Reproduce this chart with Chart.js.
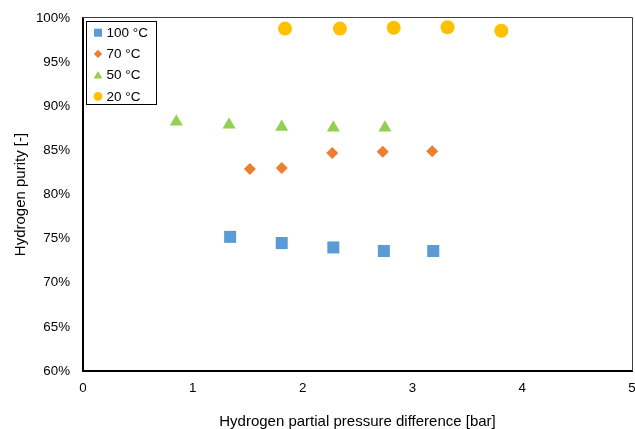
<!DOCTYPE html>
<html>
<head>
<meta charset="utf-8">
<script src="https://cdn.jsdelivr.net/npm/chart.js@4.4.1/dist/chart.umd.min.js"></script>
<style>
	html, body { margin: 0; padding: 0; background: #fff; }
	#wrap { width: 635px; height: 429px; }
</style>
</head>
<body>
<div id="wrap"><canvas id="chart" width="635" height="429"></canvas></div>
<script>
// values
const series_labels = ['100 °C', '70 °C', '50 °C', '20 °C'];

const x_100 = [1.34, 1.81, 2.28, 2.74, 3.19];
const y_100 = [75.2, 74.5, 74.0, 73.6, 73.6];

const x_70 = [1.52, 1.81, 2.27, 2.73, 3.18];
const y_70 = [82.9, 83.0, 84.7, 84.85, 84.9];

const x_50 = [0.85, 1.33, 1.81, 2.28, 2.75];
const y_50 = [88.25, 87.9, 87.65, 87.55, 87.55];

const x_20 = [1.84, 2.34, 2.83, 3.32, 3.81];
const y_20 = [98.8, 98.8, 98.9, 98.95, 98.55];

const x_ticks = [0, 1, 2, 3, 4, 5];
const y_ticks = [60, 65, 70, 75, 80, 85, 90, 95, 100];

const FONT = "'Liberation Sans', Arial, sans-serif";

function points(xs, ys) {
	return xs.map((x, i) => ({ x: x, y: ys[i] }));
}

const styles = [
	{ color: '#5B9BD5', pointStyle: 'rect',     radius: 8.5, legendRadius: 5.7 },
	{ color: '#ED7D31', pointStyle: 'rectRot',  radius: 6,   legendRadius: 4.2 },
	{ color: '#92D050', pointStyle: 'triangle', radius: 7.5, legendRadius: 5 },
	{ color: '#FFC000', pointStyle: 'circle',   radius: 7,   legendRadius: 4.4 }
];

const all_data = [
	points(x_100, y_100),
	points(x_70, y_70),
	points(x_50, y_50),
	points(x_20, y_20)
];

const datasets = all_data.map((d, i) => ({
	label:            series_labels[i],
	data:             d,
	showLine:         false,
	pointStyle:       styles[i].pointStyle,
	pointRadius:      styles[i].radius,
	pointHoverRadius: styles[i].radius,
	backgroundColor:  styles[i].color,
	borderColor:      styles[i].color,
	borderWidth:      0,
	legendRadius:     styles[i].legendRadius
}));

/*************** top / right frame of the plot ****************/

const frame_plugin = {
	id: 'frame',
	beforeDatasetsDraw(chart) {
		const { ctx, chartArea: a } = chart;
		ctx.save();
		ctx.strokeStyle = '#404040';
		ctx.lineWidth = 1;
		ctx.beginPath();
		ctx.moveTo(a.left, a.top - 0.5);
		ctx.lineTo(a.right + 0.5, a.top - 0.5);
		ctx.lineTo(a.right + 0.5, a.bottom);
		ctx.stroke();
		ctx.restore();
	}
};

/*************** legend box inside the plot ****************/

const box_legend = {
	id: 'boxLegend',
	afterDatasetsDraw(chart) {
		const { ctx, chartArea: a } = chart;
		const x0 = a.left + 3.5, y0 = a.top + 3.5, w = 70, h = 83;

		ctx.save();
		ctx.fillStyle = '#fff';
		ctx.fillRect(x0, y0, w, h);
		ctx.strokeStyle = '#000';
		ctx.lineWidth = 1;
		ctx.strokeRect(x0, y0, w, h);

		ctx.font = `13.5px ${FONT}`;
		ctx.textBaseline = 'middle';
		ctx.textAlign = 'left';

		chart.data.datasets.forEach((ds, i) => {
			const cy = a.top + 14.7 + i * 21.2;
			const cx = a.left + 15;
			ctx.fillStyle = ds.backgroundColor;
			Chart.helpers.drawPoint(ctx, {
				pointStyle: ds.pointStyle,
				radius: ds.legendRadius,
				rotation: 0,
				borderWidth: 0
			}, cx, cy + (ds.pointStyle === 'triangle' ? 1 : 0));
			ctx.fillStyle = '#000';
			ctx.fillText(ds.label, a.left + 23.5, cy + 0.5);
		});
		ctx.restore();
	}
};

new Chart(document.getElementById('chart'), {
	type: 'scatter',
	data: { datasets: datasets },
	options: {
		responsive: false,
		animation: false,
		devicePixelRatio: 1,
		layout: { autoPadding: false, padding: { top: 18, right: 3, left: 0, bottom: 0 } },
		plugins: {
			legend:  { display: false },
			tooltip: { enabled: false }
		},
		scales: {
			x: {
				type: 'linear',
				min: x_ticks[0],
				max: x_ticks[x_ticks.length - 1],
				afterBuildTicks: (scale) => { scale.ticks = x_ticks.map(v => ({ value: v })); },
				afterFit: (scale) => { scale.height = 58; scale.paddingLeft = 0; scale.paddingRight = 0; },
				grid:   { display: false, drawTicks: false },
				border: { display: true, color: '#000', width: 2 },
				ticks:  { color: '#000', padding: 9, font: { family: FONT, size: 13.33 } },
				title:  {
					display: true,
					text: 'Hydrogen partial pressure difference [bar]',
					color: '#000',
					font: { family: FONT, size: 15 },
					padding: { top: 0, bottom: -2 }
				}
			},
			y: {
				type: 'linear',
				min: y_ticks[0],
				max: y_ticks[y_ticks.length - 1],
				afterBuildTicks: (scale) => { scale.ticks = y_ticks.map(v => ({ value: v })); },
				afterFit: (scale) => { scale.width = 83; scale.paddingTop = 0; scale.paddingBottom = 0; },
				grid:   { display: false, drawTicks: false },
				border: { display: true, color: '#000', width: 2 },
				ticks:  {
					color: '#000',
					padding: 13,
					font: { family: FONT, size: 13.33 },
					callback: (v) => v + '%'
				},
				title:  {
					display: true,
					text: 'Hydrogen purity [-]',
					color: '#000',
					font: { family: FONT, size: 15 },
					padding: { top: 12, bottom: 0 }
				}
			}
		}
	},
	plugins: [frame_plugin, box_legend]
});
</script>
</body>
</html>
